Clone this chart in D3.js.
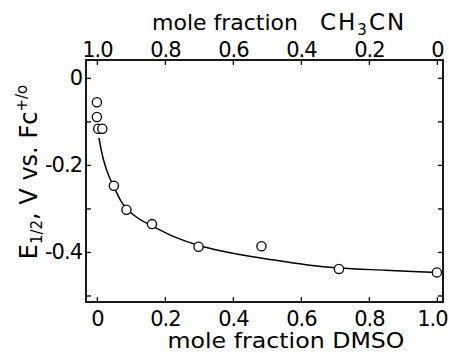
<!DOCTYPE html>
<html><head><meta charset="utf-8">
<script src="https://cdn.jsdelivr.net/npm/d3@7"></script>
<style>body{margin:0;background:#fff}svg{display:block}text{font-family:"DejaVu Sans",sans-serif;fill:#000}</style>
</head><body>
<svg id="c" width="449" height="353"></svg>
<script>
// Data
const dmso = [0.0, 0.0, 0.004, 0.016, 0.05, 0.087, 0.162, 0.299, 0.484, 0.712, 1.0];
const e12  = [-0.056, -0.090, -0.117, -0.117, -0.248, -0.303, -0.336, -0.388, -0.387, -0.439, -0.447];
// smooth fitted curve
const curveX = [0.006, 0.02, 0.035, 0.05, 0.07, 0.087, 0.12, 0.162, 0.23, 0.3, 0.4, 0.5, 0.62, 0.712, 0.85, 1.0];
const curveY = [-0.138, -0.19, -0.225, -0.25, -0.282, -0.300, -0.322, -0.340, -0.366, -0.385, -0.403, -0.416, -0.430, -0.437, -0.442, -0.447];
const bottomTicks = [0, 0.2, 0.4, 0.6, 0.8, 1.0];
const bottomLabels = ["0", "0.2", "0.4", "0.6", "0.8", "1.0"];
const topTicks = [1.0, 0.8, 0.6, 0.4, 0.2, 0];
const topLabels = ["1.0", "0.8", "0.6", "0.4", "0.2", "0"];
const yTicks = [0, -0.1, -0.2, -0.3, -0.4, -0.5];
const yLabels = {"0": "0", "-0.2": "-0.2", "-0.4": "-0.4"};

const svg = d3.select("#c");
const L = 86, R = 443, T = 60, B = 302;
const x = d3.scaleLinear().domain([-0.032, 1.018]).range([L, R]);
const xTop = d3.scaleLinear().domain([1.032, -0.018]).range([L, R]);
const y = d3.scaleLinear().domain([-0.515, 0.041]).range([B, T]);

const gb = svg.append("g").attr("transform", `translate(0,${B})`)
  .call(d3.axisBottom(x).tickValues(bottomTicks).tickSize(-5).tickPadding(9)
    .tickFormat((d,i) => bottomLabels[i]));
const gt = svg.append("g").attr("transform", `translate(0,${T})`)
  .call(d3.axisTop(xTop).tickValues(topTicks).tickSize(-5).tickPadding(3)
    .tickFormat((d,i) => topLabels[i]));
const gl = svg.append("g").attr("transform", `translate(${L},0)`)
  .call(d3.axisLeft(y).tickValues(yTicks).tickSize(-5).tickPadding(4)
    .tickFormat(d => yLabels[String(+d.toFixed(1))] || ""));
const gr = svg.append("g").attr("transform", `translate(${R},0)`)
  .call(d3.axisRight(y).tickValues(yTicks).tickSize(-5).tickFormat(""));

[gb, gt, gl, gr].forEach(g => {
  g.select(".domain").remove();
  g.selectAll(".tick line").attr("stroke", "#000").attr("stroke-width", 1.3);
  g.selectAll(".tick text").style("font-size", "21px").attr("fill", "#000")
    .style("letter-spacing", "-1px")
    .style("font-family", "'DejaVu Sans',sans-serif");
});
// keep the last bottom label inside the picture
gb.selectAll(".tick text").filter((d, i) => i === bottomTicks.length - 1).attr("dx", -5);

// frame
svg.append("rect").attr("x", L).attr("y", T).attr("width", R - L).attr("height", B - T)
  .attr("fill", "none").attr("stroke", "#000").attr("stroke-width", 1.8);

// fitted curve
const pts = curveX.map((d, i) => [x(d), y(curveY[i])]);
svg.append("path").attr("d", d3.line().curve(d3.curveCatmullRom)(pts))
  .attr("fill", "none").attr("stroke", "#000").attr("stroke-width", 1.5);

// data points
svg.append("g").selectAll("circle").data(dmso).join("circle")
  .attr("cx", d => x(d)).attr("cy", (d, i) => y(e12[i])).attr("r", 4.6)
  .attr("fill", "#fff").attr("stroke", "#000").attr("stroke-width", 1.3);

// titles
svg.append("text").attr("x", 152).attr("y", 30).style("font-size", "22px")
  .attr("textLength", 146).attr("lengthAdjust", "spacingAndGlyphs").text("mole fraction");
const tt = svg.append("text").attr("x", 320).attr("y", 30).style("font-size", "23px")
  .style("letter-spacing", "2px");
tt.append("tspan").text("CH");
tt.append("tspan").attr("dy", 5).style("font-size", "15px").text("3");
tt.append("tspan").attr("dy", -5).text("CN");

svg.append("text").attr("x", 286).attr("y", 348).attr("text-anchor", "middle")
  .style("font-size", "21px").attr("textLength", 237).attr("lengthAdjust", "spacingAndGlyphs")
  .text("mole fraction DMSO");

const yl = svg.append("text").attr("transform", "translate(37,172) rotate(-90)")
  .attr("text-anchor", "middle").style("font-size", "24px");
yl.append("tspan").text("E");
yl.append("tspan").attr("dy", 5).style("font-size", "15px").text("1/2");
yl.append("tspan").attr("dy", -5).text(", V vs. Fc");
yl.append("tspan").attr("dy", -10).style("font-size", "15px").text("+/o");
</script>
</body></html>
